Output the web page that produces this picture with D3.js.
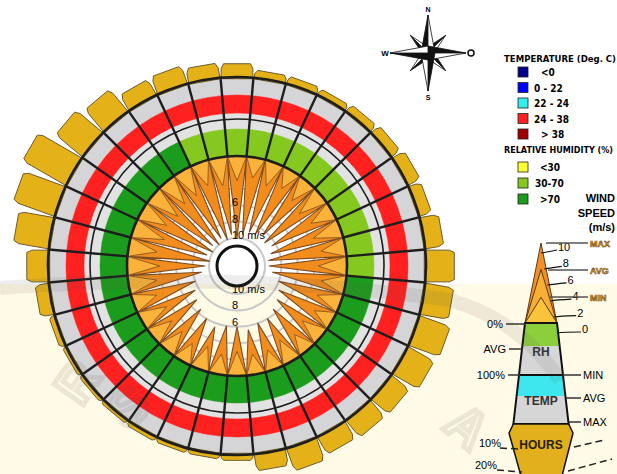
<!DOCTYPE html>
<html>
<head>
<meta charset="utf-8">
<script src="https://cdn.jsdelivr.net/npm/d3@7"></script>
<style>
  body { margin: 0; background: #fff; }
  svg { display: block; font-family: "Liberation Sans", Arial, sans-serif; }
  .narrow { font-family: "Liberation Sans Narrow", "DejaVu Sans Condensed", sans-serif; font-weight: bold; }
</style>
</head>
<body>
<svg id="chart" width="617" height="474"></svg>
<script>
// 36 sectors, degrees clockwise from north
const sectors = d3.range(0, 360, 10)

// hours bars (% of time)
const hoursPct = [6.5, 3.7, 3.7, 3.3, 4.2, 5.1, 6.5, 6.0, 8.8, 13.5, 13.5, 15.3,
                  14.0, 10.7, 10.2, 9.3, 11.2, 7.9, 2.8, 2.3, 2.3, 2.3, 1.9, 1.9,
                  1.9, 2.8, 6.5, 10.2, 16.7, 20.5, 23.3, 16.3, 13.5, 8.4, 8.8, 7.0]

// wind speed (m/s)
const windMax = [10, 9.5, 9, 9, 8.5, 9, 8.5, 9, 9.5, 9.5, 9, 8,
                 7.5, 7, 6.5, 6, 6, 5.5, 6, 6, 5.5, 6, 6.5, 7,
                 7.5, 8, 9, 9.5, 10, 9.5, 10, 9.5, 10, 9.5, 10, 9.5]
const windAvg = [3, 2.5, 3, 2.5, 3, 3.5, 3, 3.5, 3, 3.5, 3, 3,
                 2.5, 3, 2.5, 3, 2.5, 2.5, 3, 2.5, 3, 2.5, 3, 3,
                 3.5, 3, 3.5, 4, 3.5, 4, 3.5, 4, 3.5, 3.5, 3, 3.5]

// relative humidity (%) and temperature (deg C), sector averages
const rhAvg = [66, 65, 67, 68, 66, 64, 65, 67, 68, 69, 74, 76,
               78, 79, 80, 81, 80, 82, 83, 82, 81, 80, 79, 80,
               81, 80, 79, 78, 76, 75, 74, 73, 72, 72, 69, 68]
const tempAvg = [28, 28, 28.5, 29, 29, 29, 28.5, 28.5, 28, 28, 27.5, 27.5,
                 27, 27, 26.5, 26.5, 26.5, 26, 26, 26, 26, 26.5, 26.5, 27,
                 27, 27, 27.5, 27.5, 27.5, 27.5, 28, 28, 28, 28, 28, 28]

const windTicks = [6, 8, 10]
const windScaleTicks = [10, 8, 6, 4, 2, 0]
const tempLabels = ["<0", "0  -  22", "22  -  24", "24  -  38", "> 38"]
const rhLabels = ["<30", "30-70", ">70"]

// colours
const tempColors = ["#000088", "#0000ff", "#30f0f0", "#ff2020", "#a00000"]
const rhColors = ["#ffff30", "#84c820", "#1c9c1c"]
const tempColor = t => t < 0 ? tempColors[0] : t < 22 ? tempColors[1] : t < 24 ? tempColors[2] : t <= 38 ? tempColors[3] : tempColors[4]
const rhColor = h => h < 30 ? rhColors[0] : h <= 70 ? rhColors[1] : rhColors[2]

const svg = d3.select("#chart")
const cx = 237, cy = 266
const rIn = 110, rMid = 147, rOut = 189
const rad = d3.scaleLinear().domain([0, 360]).range([0, 2 * Math.PI])
const windR = d3.scaleLinear().domain([0, 10]).range([rIn, 28])
const hoursLen = d3.scaleLinear().domain([0, 10]).range([0, 21.5])

// watermark background
const wm = svg.append("g")
wm.append("rect").attr("x", 0).attr("y", 284).attr("width", 617).attr("height", 190).attr("fill", "#fffbe6")

const g = svg.append("g").attr("transform", `translate(${cx},${cy})`)
const pt = (deg, r) => [r * Math.sin(rad(deg)), -r * Math.cos(rad(deg))]

// wind speed circles
g.selectAll(".wcirc").data([2, 4, 6, 8, 10]).enter().append("circle")
  .attr("r", d => windR(d))
  .attr("fill", "none").attr("stroke", "#c8c8c8").attr("stroke-width", 2)

// wind spikes: region between circle rIn and the star outline
const radial = d3.lineRadial().angle(d => rad(d[0])).radius(d => d[1]).curve(d3.curveLinearClosed)
const ring = d3.arc()({ innerRadius: 0, outerRadius: rIn, startAngle: 0, endAngle: 2 * Math.PI })
function starPoints(vals) {
  const pts = []
  sectors.forEach((a, i) => {
    pts.push([a - 5, rIn])
    pts.push([a, windR(vals[i])])
  })
  return pts
}
g.append("path").attr("d", ring + radial(starPoints(windMax))).attr("fill-rule", "evenodd")
  .attr("fill", "#f28c1c").attr("stroke", "#7e4c22").attr("stroke-width", 1.1).attr("stroke-linejoin", "round")
g.append("path").attr("d", ring + radial(starPoints(windAvg))).attr("fill-rule", "evenodd")
  .attr("fill", "#fbb23a").attr("stroke", "#7e4c22").attr("stroke-width", 0.8).attr("stroke-linejoin", "round")

// wind labels
windTicks.forEach(t => {
  const txt = t === 10 ? "10 m/s" : String(t)
  g.append("text").attr("x", -5).attr("y", -windR(t) + 1).attr("font-size", 11).text(txt)
  g.append("text").attr("x", -5).attr("y", windR(t) - 1).attr("font-size", 11).text(txt)
})
g.append("circle").attr("r", 20).attr("fill", "#fff").attr("stroke", "#111").attr("stroke-width", 3)

// rings
const arc = d3.arc()
g.append("path").attr("d", arc({ innerRadius: rIn, outerRadius: rOut, startAngle: 0, endAngle: 2 * Math.PI }))
  .attr("fill", "#d5d5d8")
g.append("path").attr("d", arc({ innerRadius: 137, outerRadius: 153, startAngle: 0, endAngle: 2 * Math.PI }))
  .attr("fill", "#e2e2e2")

g.selectAll(".rh").data(sectors).enter().append("path")
  .attr("d", (a, i) => arc({ innerRadius: rIn, outerRadius: 137, startAngle: rad(a - 5), endAngle: rad(a + 5) }))
  .attr("fill", (a, i) => rhColor(rhAvg[i])).attr("stroke", (a, i) => rhColor(rhAvg[i])).attr("stroke-width", 0.5)

g.selectAll(".temp").data(sectors).enter().append("path")
  .attr("d", a => arc({ innerRadius: 153, outerRadius: 171, startAngle: rad(a - 5), endAngle: rad(a + 5) }))
  .attr("fill", (a, i) => tempColor(tempAvg[i])).attr("stroke", (a, i) => tempColor(tempAvg[i])).attr("stroke-width", 0.5)

// sector lines and circles
g.selectAll(".sline").data(sectors).enter().append("line")
  .attr("x1", a => pt(a - 5, rIn)[0]).attr("y1", a => pt(a - 5, rIn)[1])
  .attr("x2", a => pt(a - 5, rOut)[0]).attr("y2", a => pt(a - 5, rOut)[1])
  .attr("stroke", "#1e1e1e").attr("stroke-width", 2.4)
;[rIn, rMid, rOut].forEach(r => {
  g.append("circle").attr("r", r).attr("fill", "none").attr("stroke", "#1e1e1e").attr("stroke-width", r === rMid ? 1.6 : 2.6)
})

// hours bars
function barPoints(a, h) {
  const b1 = pt(a - 5, rOut), b2 = pt(a + 5, rOut)
  const u = [Math.sin(rad(a)), -Math.cos(rad(a))]
  const t = [Math.cos(rad(a)), Math.sin(rad(a))]
  const c = Math.min(5, h * 0.45), cw = 3
  const off = (p, k, m) => [p[0] + u[0] * k + t[0] * m, p[1] + u[1] * k + t[1] * m]
  return [off(b1, -1, 0.6), off(b1, h - c, 0.6), off(b1, h, cw), off(b2, h, -cw), off(b2, h - c, -0.6), off(b2, -1, -0.6)]
}
g.selectAll(".bar").data(sectors).enter().append("polygon")
  .attr("points", (a, i) => barPoints(a, hoursLen(hoursPct[i])).map(p => p.join(",")).join(" "))
  .attr("fill", "#e4b218").attr("stroke", "#6e5b2c").attr("stroke-width", 1)
g.append("circle").attr("r", rOut).attr("fill", "none").attr("stroke", "#1e1e1e").attr("stroke-width", 2.6)

// compass rose
const comp = svg.append("g").attr("transform", "translate(428,53)")
function arm(angle, len, w) {
  const a = rad(angle)
  const tip = [len * Math.sin(a), -len * Math.cos(a)]
  const l = [w * Math.sin(a - Math.PI / 2), -w * Math.cos(a - Math.PI / 2)]
  const r = [w * Math.sin(a + Math.PI / 2), -w * Math.cos(a + Math.PI / 2)]
  comp.append("polygon").attr("points", [[0, 0], tip, l].map(p => p.join(",")).join(" "))
    .attr("fill", "#111").attr("stroke", "#111").attr("stroke-width", 0.8)
  comp.append("polygon").attr("points", [[0, 0], tip, r].map(p => p.join(",")).join(" "))
    .attr("fill", "#fff").attr("stroke", "#111").attr("stroke-width", 0.8)
}
;[45, 135, 225, 315].forEach(d => arm(d, 25, 5))
;[0, 90, 180, 270].forEach(d => arm(d, 38, 7))
comp.append("text").attr("x", 0).attr("y", -41).attr("text-anchor", "middle").attr("font-size", 7).attr("font-weight", "bold").text("N")
comp.append("text").attr("x", 0).attr("y", 47).attr("text-anchor", "middle").attr("font-size", 7).attr("font-weight", "bold").text("S")
comp.append("text").attr("x", -43).attr("y", 3).attr("text-anchor", "middle").attr("font-size", 8).attr("font-weight", "bold").text("W")
comp.append("circle").attr("cx", 43).attr("cy", 0).attr("r", 3).attr("fill", "#fff").attr("stroke", "#111").attr("stroke-width", 1.5)

// temperature / humidity legends
const leg = svg.append("g")
leg.append("text").attr("class", "narrow").attr("x", 504).attr("y", 62).attr("font-size", 9.5)
  .attr("textLength", 112).attr("lengthAdjust", "spacingAndGlyphs").text("TEMPERATURE (Deg. C)")
tempLabels.forEach((l, i) => {
  const y = 67 + i * 15.5
  leg.append("rect").attr("x", 518).attr("y", y).attr("width", 10).attr("height", 10)
    .attr("fill", tempColors[i]).attr("stroke", "#222").attr("stroke-width", 0.8)
  leg.append("text").attr("class", "narrow").attr("x", i === 0 || i === 4 ? 541 : 534).attr("y", y + 9)
    .attr("font-size", 10).text(l)
})
leg.append("text").attr("class", "narrow").attr("x", 504).attr("y", 153).attr("font-size", 9)
  .attr("textLength", 109).attr("lengthAdjust", "spacingAndGlyphs").text("RELATIVE HUMIDITY (%)")
rhLabels.forEach((l, i) => {
  const y = 162 + i * 16
  leg.append("rect").attr("x", 518).attr("y", y).attr("width", 10).attr("height", 10)
    .attr("fill", rhColors[i]).attr("stroke", "#222").attr("stroke-width", 0.8)
  leg.append("text").attr("class", "narrow").attr("x", i === 1 ? 535 : 540).attr("y", y + 9)
    .attr("font-size", 10).text(l)
})
;["WIND", "SPEED", "(m/s)"].forEach((t, i) => {
  leg.append("text").attr("x", 615).attr("y", 202 + i * 14.5).attr("text-anchor", "end")
    .attr("font-size", 11).attr("font-weight", "bold").text(t)
})

// wedge legend
const lx = 541
const halfW = y => 16 + (y - 323) * 0.115
const trap = (y0, y1) => [[lx - halfW(y0), y0], [lx + halfW(y0), y0], [lx + halfW(y1), y1], [lx - halfW(y1), y1]]
const poly = (pts, fill, stroke, sw) => leg.append("polygon").attr("points", pts.map(p => p.join(",")).join(" "))
  .attr("fill", fill).attr("stroke", stroke || "none").attr("stroke-width", sw || 0)

const legWind = d3.scaleLinear().domain([0, 10]).range([323, 243])
poly([[lx, legWind(10)], [lx + 16, 323], [lx - 16, 323]], "#f29028", "#5a3a1a", 1)
poly([[lx, legWind(6.7)], [lx + 16, 323], [lx - 16, 323]], "#f9ae36", "#5a3a1a", 1)
poly([[lx, legWind(3.2)], [lx + 16, 323], [lx - 16, 323]], "#f9c43c", "#5a3a1a", 1)

poly(trap(323, 346), "#8ccf3c")
poly(trap(346, 375), "#d6d6d6")
poly(trap(375, 396), "#3ee6ee")
poly(trap(396, 424), "#d6d6d6")
poly(trap(323, 424), "none", "#111", 2)
leg.append("line").attr("x1", lx - halfW(375)).attr("x2", lx + halfW(375)).attr("y1", 375).attr("y2", 375)
  .attr("stroke", "#111").attr("stroke-width", 2)
poly([[lx - halfW(424), 424], [lx + halfW(424), 424], [573, 433], [562, 476], [521, 476], [509, 433]], "#e2b01c", "#111", 1.5)

leg.append("text").attr("x", lx).attr("y", 356).attr("text-anchor", "middle").attr("font-size", 12).attr("font-weight", "bold").attr("fill", "#333").text("RH")
leg.append("text").attr("x", lx).attr("y", 405).attr("text-anchor", "middle").attr("font-size", 12).attr("font-weight", "bold").attr("fill", "#333").text("TEMP")
leg.append("text").attr("x", lx).attr("y", 449).attr("text-anchor", "middle").attr("font-size", 12).attr("font-weight", "bold").attr("fill", "#2a2010").text("HOURS")

// wind scale ticks
windScaleTicks.forEach(v => {
  const y = legWind(v)
  const ex = lx + 16 * (y - 243) / 80
  const tx = 558 + (10 - v) * 2.4, ty = y + 12 - v * 0.2
  leg.append("path").attr("d", `M${ex},${y + 10} Q${ex + 6},${y + 9} ${tx - 1},${ty - 3}`)
    .attr("fill", "none").attr("stroke", "#111").attr("stroke-width", 1.2)
  leg.append("text").attr("x", tx).attr("y", ty - 2).attr("font-size", 11).text(v)
})
const gold = (t, x, y) => leg.append("text").attr("x", x).attr("y", y).attr("font-size", 9).attr("font-weight", "bold")
  .attr("fill", "#f3c247").attr("stroke", "#7a4a14").attr("stroke-width", 0.6).text(t)
;[["MAX", 243], ["AVG", 270], ["MIN", 297]].forEach(([t, y], i) => {
  leg.append("line").attr("x1", lx + 5 + i * 2).attr("x2", 588).attr("y1", y).attr("y2", y).attr("stroke", "#555").attr("stroke-width", 1.6)
  gold(t, 590, y + 3.5)
})

const sideLabel = (t, x, y, anchor, x1, x2) => {
  leg.append("line").attr("x1", x1).attr("x2", x2).attr("y1", y).attr("y2", y).attr("stroke", "#333").attr("stroke-width", 1.5)
  leg.append("text").attr("x", x).attr("y", y + 4).attr("text-anchor", anchor).attr("font-size", 11).text(t)
}
sideLabel("0%", 503, 324, "end", 506, 526)
sideLabel("AVG", 506, 349, "end", 509, 523)
sideLabel("100%", 505, 375, "end", 508, 520)
sideLabel("MIN", 583, 375, "start", 563, 581)
sideLabel("AVG", 583, 398, "start", 566, 581)
sideLabel("MAX", 583, 422, "start", 569, 581)

const dashed = d => leg.append("path").attr("d", d).attr("fill", "none").attr("stroke", "#222").attr("stroke-width", 1.5).attr("stroke-dasharray", "7,4")
leg.append("text").attr("x", 501).attr("y", 447).attr("text-anchor", "end").attr("font-size", 11).text("10%")
leg.append("text").attr("x", 497).attr("y", 469).attr("text-anchor", "end").attr("font-size", 11).text("20%")
dashed("M500,448 L518,449")
dashed("M497,470 L522,472")
dashed("M574,447 L604,440")
dashed("M568,471 L612,459")

// watermark overlay
const wmo = svg.append("g").attr("opacity", 0.1)
wmo.append("path").attr("d", "M0,288 Q240,270 450,300 Q520,320 560,380")
  .attr("fill", "none").attr("stroke", "#555").attr("stroke-width", 14)
;[["R", 92, 392, -55], ["S", 140, 420, -40], ["A", 456, 440, 40]].forEach(([t, x, y, r]) => {
  wmo.append("text").attr("transform", `translate(${x},${y}) rotate(${r})`).attr("text-anchor", "middle")
    .attr("font-size", 52).attr("font-weight", "bold").attr("fill", "none").attr("stroke", "#444").attr("stroke-width", 5).text(t)
})
</script>
</body>
</html>
